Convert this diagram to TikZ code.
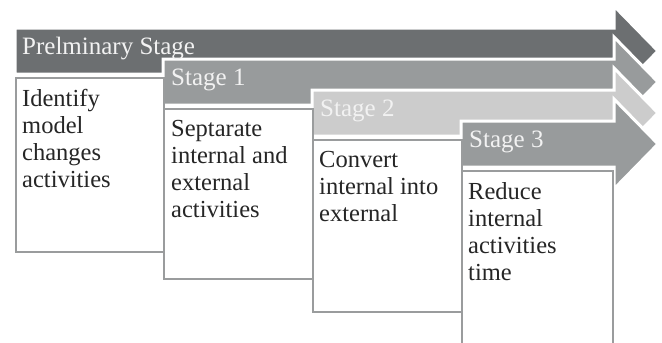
\documentclass[tikz,border=0pt]{standalone}
\usepackage{fontspec}
\setmainfont{Liberation Serif}
\definecolor{arrA}{HTML}{6C6F71}
\definecolor{arrB}{HTML}{989B9C}
\definecolor{arrC}{HTML}{CCCCCC}
\definecolor{arrD}{HTML}{989B9C}
\definecolor{boxline}{HTML}{9A9C9D}
\definecolor{headtxt}{HTML}{F2F2F2}
\tikzset{
  stagearrow/.style={draw=white, line width=3pt, line join=miter},
  headlabel/.style={anchor=base west, inner sep=0pt, text=headtxt, font=\fontsize{25}{27}\selectfont},
  stagebox/.style={draw=boxline, line width=2pt, fill=white, anchor=north west, inner sep=0pt},
  boxtext/.style={anchor=north west, inner sep=0pt, align=left, text=black!85, font=\fontsize{24.5}{26.8}\selectfont},
}
\newcommand{\stageshape}[3]{% left, center, colour
  \fill[#3, stagearrow] (#1,#2-23) -- (614,#2-23) -- (614,#2-45) -- (658,#2) -- (614,#2+45) -- (614,#2+23) -- (#1,#2+23) -- cycle;
}
\begin{document}
\begin{tikzpicture}[x=1pt,y=-1pt]
\clip (0,0) rectangle (662,343);
\fill[white] (0,0) rectangle (662,343);
% arrows
\stageshape{15}{51}{arrA}
\stageshape{163}{82}{arrB}
\stageshape{312}{113}{arrC}
\stageshape{461}{144}{arrD}
% header labels
\node[headlabel] (h0) at (22,54) {Prelminary Stage};
\node[headlabel] (h1) at (171,85) {Stage 1};
\node[headlabel] (h2) at (320,116) {Stage 2};
\node[headlabel] (h3) at (469,147.5) {Stage 3};
% boxes
\node[stagebox, minimum width=148pt, minimum height=174pt] (b0) at (15,77) {};
\node[stagebox, minimum width=149pt, minimum height=170pt] (b1) at (163,108) {};
\node[stagebox, minimum width=149pt, minimum height=172pt] (b2) at (312,139) {};
\node[stagebox, minimum width=151pt, minimum height=180pt] (b3) at (461,170) {};
% box texts
\node[boxtext] (t0) at ([xshift=7pt,yshift=-12.5pt]b0.north west) {Identify\\model\\changes\\activities};
\node[boxtext] (t1) at ([xshift=8pt,yshift=-12.5pt]b1.north west) {Septarate\\internal and\\external\\activities};
\node[boxtext] (t2) at ([xshift=7pt,yshift=-12.5pt]b2.north west) {Convert\\internal into\\external};
\node[boxtext] (t3) at ([xshift=7pt,yshift=-12.5pt]b3.north west) {Reduce\\internal\\activities\\time};
\end{tikzpicture}
\end{document}
